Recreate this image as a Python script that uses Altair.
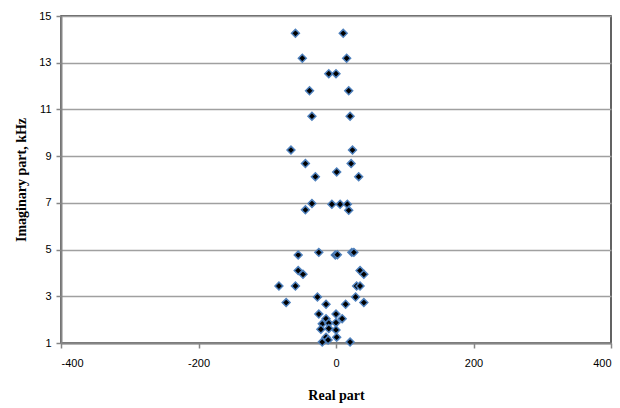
import altair as alt
import pandas as pd

real_part = [-59, 10.5, -49, 15.5, -10.5, 0, -38.5, 18.5, -35, 20.5,
             -65.5, 24, -44.5, 22, -30, 1, 33,
             -35, -44.5, -6, 6, 16.5, 18.5,
             -55, -25, -1, 2, 23, 26, -55, -48, 35, 40.5, -83, -59, 30, 35,
             -72.5, -27, -14.5, 14, 28.5, 40.5,
             -25, 0, -14.5, 9, -20, -10.5, 0, -22, -10.5, 0, -14.5, 1, -20, -11.5, 20.5]
imag_part = [14.26, 14.26, 13.19, 13.19, 12.53, 12.53, 11.8, 11.8, 10.71, 10.71,
             9.26, 9.26, 8.68, 8.68, 8.12, 8.32, 8.12,
             6.97, 6.7, 6.94, 6.94, 6.94, 6.68,
             4.77, 4.88, 4.77, 4.78, 4.88, 4.88, 4.1, 3.94, 4.1, 3.94, 3.44, 3.44, 3.44, 3.44,
             2.73, 2.97, 2.66, 2.66, 2.97, 2.73,
             2.24, 2.24, 2.04, 2.04, 1.82, 1.85, 1.87, 1.59, 1.62, 1.56, 1.25, 1.25, 1.04, 1.13, 1.04]

x_ticks = [-400, -200, 0, 200, 400]
y_ticks = [1, 3, 5, 7, 9, 11, 13, 15]

df = pd.DataFrame({"re": real_part, "im": imag_part})

chart = alt.Chart(df).mark_point(
    shape="diamond", filled=True, fill="black", stroke="#4F81BD",
    strokeWidth=1.5, size=62, opacity=1
).encode(
    x=alt.X("re:Q", scale=alt.Scale(domain=[-400, 400], nice=False),
            axis=alt.Axis(values=x_ticks, title="Real part", grid=False,
                          labelExpr="replace(datum.label, '\u2212', '-')",
                          domainColor="#868686", domainWidth=2,
                          tickColor="#868686", tickSize=5, tickWidth=1.5,
                          labelPadding=9, titlePadding=20)),
    y=alt.Y("im:Q", scale=alt.Scale(domain=[1, 15], nice=False),
            axis=alt.Axis(values=y_ticks, title="Imaginary part, kHz", grid=True,
                          gridColor="#a0a0a0", gridWidth=1.5,
                          domainColor="#868686", domainWidth=2,
                          tickColor="#868686", tickSize=5, tickWidth=1.5,
                          labelPadding=5, titlePadding=10)),
).properties(
    width=550, height=327,
    autosize=alt.AutoSizeParams(type="none"),
    padding={"left": 61, "top": 16, "right": 9, "bottom": 65},
).configure_view(
    stroke="#303030", strokeWidth=1.5
).configure_axis(
    labelFont="Liberation Sans", labelFontSize=11, labelColor="#000000",
    titleFont="Liberation Serif", titleFontSize=14, titleFontWeight="bold",
    titleColor="#000000"
)

chart.save("out.html", embed_options={"renderer": "svg", "actions": False})
